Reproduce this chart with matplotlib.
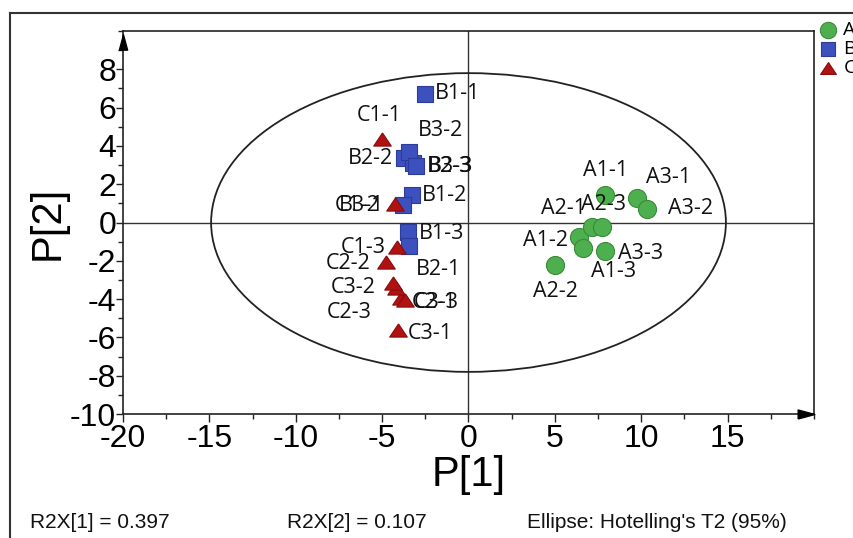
import matplotlib
matplotlib.use("Agg")
import matplotlib.pyplot as plt
from matplotlib.patches import Ellipse
from matplotlib.lines import Line2D
from matplotlib.ticker import MultipleLocator, FixedLocator
import matplotlib.transforms as mtrans

# ---------------- data ----------------
a_labels = ["A1-1", "A1-2", "A1-3", "A2-1", "A2-2", "A2-3", "A3-1", "A3-2", "A3-3"]
a_p1 = [7.92, 6.42, 6.65, 7.17, 5.03, 7.75, 9.77, 10.35, 7.92]
a_p2 = [1.46, -0.78, -1.35, -0.26, -2.24, -0.26, 1.30, 0.73, -1.51]

b_labels = ["B1-1", "B1-2", "B1-3", "B2-1", "B2-2", "B2-3", "B3-1", "B3-2", "B3-3"]
b_p1 = [-2.54, -3.29, -3.50, -3.47, -3.76, -3.24, -3.82, -3.47, -3.06]
b_p2 = [6.72, 1.46, -0.52, -1.25, 3.39, 3.13, 0.89, 3.70, 2.97]

c_labels = ["C1-1", "C1-2", "C1-3", "C2-1", "C2-2", "C2-3", "C3-1", "C3-2", "C3-3"]
c_p1 = [-5.03, -4.28, -4.16, -3.93, -4.80, -4.22, -4.10, -4.39, -3.70]
c_p2 = [4.38, 0.99, -1.30, -3.96, -2.08, -3.44, -5.63, -3.18, -4.06]

groups = ["A", "B", "C"]
x_ticks = [-20, -15, -10, -5, 0, 5, 10, 15]
y_ticks = [-10, -8, -6, -4, -2, 0, 2, 4, 6, 8]
ellipse_a = 14.9   # Hotelling's T2 (95%) semi-axis on P[1]
ellipse_b = 7.8    # semi-axis on P[2]
r2x = [0.397, 0.107]

# ---------------- label placement (pixel offsets, style only) ----------------
label_offsets = {
    "A1-1": (0, 24), "A1-2": (-34, -3), "A1-3": (30, -23), "A2-1": (-29, 19),
    "A2-2": (0, -26), "A2-3": (1, 23), "A3-1": (31, 20), "A3-2": (43, 0),
    "A3-3": (35, -2),
    "B1-1": (33, 0), "B1-2": (33, -1), "B1-3": (34, -1), "B2-1": (30, -23),
    "B2-2": (-33, -1), "B2-3": (37, -4), "B3-1": (-41, 0), "B3-2": (32, 21),
    "B3-3": (35, -1),
    "C1-1": (-2, 23), "C1-2": (-37, -2), "C1-3": (-33, 0), "C2-1": (34, -4),
    "C2-2": (-37, -1), "C2-3": (-46, -24), "C3-1": (33, -3), "C3-2": (-39, -4),
    "C3-3": (32, -2),
}

W, H = 854, 538
fig = plt.figure(figsize=(W / 100, H / 100), dpi=100)
ax_l, ax_r, ax_t, ax_b = 123, 814, 31, 414
ax = fig.add_axes([ax_l / W, 1 - ax_b / H, (ax_r - ax_l) / W, (ax_b - ax_t) / H])

tick_font = "Liberation Sans"
label_font = "Open Sans"

ax.set_xlim(-20, 20)
ax.set_ylim(-10, 10)
ax.xaxis.set_major_locator(FixedLocator(x_ticks))
ax.yaxis.set_major_locator(FixedLocator(y_ticks))
ax.xaxis.set_minor_locator(MultipleLocator(2.5))
ax.yaxis.set_minor_locator(MultipleLocator(1))
ax.set_xticklabels([str(v) for v in x_ticks], fontname=tick_font, fontsize=23)
ax.set_yticklabels([str(v) for v in y_ticks], fontname=tick_font, fontsize=23)
ax.tick_params(axis="x", which="major", direction="out", length=6, width=1, pad=1, color="#222222")
ax.tick_params(axis="y", which="major", direction="out", length=5, width=1, pad=0, color="#222222")
ax.tick_params(which="minor", direction="out", length=3.5, width=1, color="#222222")
for s in ax.spines.values():
    s.set_linewidth(1.2)
    s.set_color("#222222")

ax.set_xlabel("P[1]", fontname=tick_font, fontsize=30, labelpad=1)
ax.set_ylabel("P[2]", fontname=tick_font, fontsize=30, labelpad=2)

ax.axhline(0, color="#333333", lw=1, zorder=1)
ax.axvline(0, color="#333333", lw=1, zorder=1)

ell = Ellipse((0, 0), 2 * ellipse_a, 2 * ellipse_b, fill=False, ec="#222222", lw=1.3, zorder=2)
ax.add_patch(ell)

# arrow heads on axes
up_arrow = [(-0.27, -0.5), (0.27, -0.5), (0, 0.5), (-0.27, -0.5)]
right_arrow = [(-0.5, -0.27), (-0.5, 0.27), (0.5, 0), (-0.5, -0.27)]
tr_up = mtrans.offset_copy(ax.transAxes, fig=fig, x=0, y=-11, units="dots")
tr_rt = mtrans.offset_copy(ax.transAxes, fig=fig, x=-8, y=0, units="dots")
ax.plot([0], [1], marker=up_arrow, ms=11, color="black", transform=tr_up, clip_on=False, zorder=5)
ax.plot([1], [0], marker=right_arrow, ms=12, color="black", transform=tr_rt, clip_on=False, zorder=5)

tri = [(0, 0.75), (-1, -0.75), (1, -0.75), (0, 0.75)]
styles = {
    "A": dict(marker="o", s=170, color="#4DAF4D", ec="#3A8A3A"),
    "B": dict(marker="s", s=125, color="#3C50BE", ec="#2C3C9A"),
    "C": dict(marker=tri, s=160, color="#B01212", ec="#8A0A0A"),
}
data = {"A": (a_p1, a_p2, a_labels), "B": (b_p1, b_p2, b_labels), "C": (c_p1, c_p2, c_labels)}

handles = []
for i, g in enumerate(groups):
    xs, ys, labs = data[g]
    st = styles[g]
    sc = ax.scatter(xs, ys, marker=st["marker"], s=st["s"], c=st["color"],
                    edgecolors=st["ec"], linewidths=0.8, zorder=3 + i, label=g)
    handles.append(sc)
    for x, y, lab in zip(xs, ys, labs):
        dx, dy = label_offsets[lab]
        ax.annotate(lab, (x, y), xytext=(dx, dy), textcoords="offset pixels",
                    ha="center", va="center", fontsize=15.5, fontname=label_font,
                    color="#111111", zorder=8)

leg = fig.legend(handles=handles, labels=groups, loc="upper left",
                 bbox_to_anchor=(819 / W, 1 - 21 / H), frameon=False,
                 prop={"family": label_font, "size": 14}, handlelength=0.9,
                 handletextpad=0.35, labelspacing=0.05, borderpad=0, borderaxespad=0,
                 markerscale=0.9)

# outer frame lines
fig.add_artist(Line2D([10 / W, 10 / W], [0, 1 - 13 / H], transform=fig.transFigure, color="#333333", lw=1.5))
fig.add_artist(Line2D([10 / W, 1], [1 - 13 / H, 1 - 13 / H], transform=fig.transFigure, color="#333333", lw=1.5))

# bottom texts
bt = dict(fontname=tick_font, fontsize=15, va="center", ha="left", color="#111111")
fig.text(30 / W, 1 - 523 / H, "R2X[1] = %.3f" % r2x[0], **bt)
fig.text(287 / W, 1 - 523 / H, "R2X[2] = %.3f" % r2x[1], **bt)
fig.text(527 / W, 1 - 523 / H, "Ellipse: Hotelling's T2 (95%)", **bt)

fig.savefig("out.png", dpi=100)
